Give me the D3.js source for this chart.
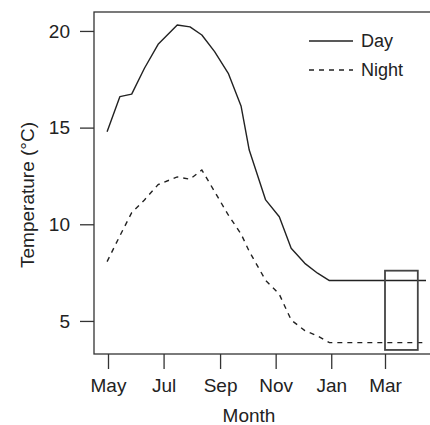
<!DOCTYPE html>
<html>
<head>
<meta charset="utf-8">
<script src="https://cdn.jsdelivr.net/npm/d3@7/dist/d3.min.js"></script>
<style>
  html, body { margin: 0; padding: 0; background: #fff; }
  svg { display: block; }
  text { font-family: "Liberation Sans", Arial, Helvetica, sans-serif; fill: #222; }
</style>
</head>
<body>
<svg id="chart" width="430" height="425"></svg>
<script>
// ---- data ----
const dates = [
  "2012-04-30","2012-05-14","2012-05-27","2012-06-10","2012-06-25","2012-07-16",
  "2012-07-30","2012-08-12","2012-08-26","2012-09-10","2012-09-24","2012-10-03",
  "2012-10-21","2012-11-05","2012-11-18","2012-12-03","2012-12-17","2012-12-30",
  "2013-01-15","2013-02-01","2013-02-15","2013-03-01","2013-03-15","2013-04-01","2013-04-15"
];
const dayTemp = [
  14.79, 16.60, 16.73, 18.07, 19.31, 20.31,
  20.21, 19.79, 18.93, 17.81, 16.12, 13.84,
  11.26, 10.39, 8.76, 7.98, 7.47, 7.09,
  7.09, 7.09, 7.09, 7.09, 7.09, 7.09, 7.09
];
const nightTemp = [
  8.07, 9.40, 10.60, 11.26, 12.05, 12.45,
  12.33, 12.81, 11.69, 10.48, 9.50, 8.60,
  7.10, 6.38, 5.05, 4.50, 4.22, 3.88,
  3.88, 3.88, 3.88, 3.88, 3.88, 3.88, 3.88
];
const seriesNames = ["Day", "Night"];
const xTickDates = ["2012-05-01","2012-07-01","2012-09-01","2012-11-01","2013-01-01","2013-03-01"];
const xTickLabels = ["May","Jul","Sep","Nov","Jan","Mar"];
const yTicks = [5, 10, 15, 20];
const highlightStart = "2013-03-01";
const highlightEnd = "2013-04-06";
const highlightLow = 3.5;
const highlightHigh = 7.6;
const xTitle = "Month";
const yTitle = "Temperature (°C)";

// ---- layout ----
const parse = d3.timeParse("%Y-%m-%d");
const svg = d3.select("#chart");
const pLeft = 94, pTop = 12, pRight = 445, pBottom = 354;

const x = d3.scaleTime()
  .domain([parse("2012-05-01"), parse("2013-03-01")])
  .range([108, 385]);
const y = d3.scaleLinear()
  .domain([3.29, 20.98])
  .range([pBottom, pTop]);

const fontSize = 19;
const ink = "#222";

// box
svg.append("rect")
  .attr("x", pLeft).attr("y", pTop)
  .attr("width", pRight - pLeft).attr("height", pBottom - pTop)
  .attr("fill", "none").attr("stroke", "#333").attr("stroke-width", 1.3);

// x axis
const xAxis = d3.axisBottom(x)
  .tickValues(xTickDates.map(parse))
  .tickFormat((d, i) => xTickLabels[i])
  .tickSize(15).tickPadding(10).tickSizeOuter(0);
const gx = svg.append("g").attr("transform", `translate(0,${pBottom})`).call(xAxis);
gx.select(".domain").remove();
gx.selectAll(".tick line").attr("stroke", "#333").attr("stroke-width", 1.3);
gx.selectAll(".tick text")
  .attr("font-size", fontSize).attr("fill", ink)
  .style("font-family", '"Liberation Sans", Arial, sans-serif');

// y axis
const yAxis = d3.axisLeft(y)
  .tickValues(yTicks)
  .tickFormat(d3.format("d"))
  .tickSize(14).tickPadding(10).tickSizeOuter(0);
const gy = svg.append("g").attr("transform", `translate(${pLeft},0)`).call(yAxis);
gy.select(".domain").remove();
gy.selectAll(".tick line").attr("stroke", "#333").attr("stroke-width", 1.3);
gy.selectAll(".tick text")
  .attr("font-size", fontSize).attr("fill", ink)
  .style("font-family", '"Liberation Sans", Arial, sans-serif');

// axis titles
svg.append("text")
  .attr("x", 249).attr("y", 422)
  .attr("text-anchor", "middle")
  .attr("font-size", fontSize)
  .text(xTitle);
svg.append("text")
  .attr("transform", `translate(34,195) rotate(-90)`)
  .attr("text-anchor", "middle")
  .attr("font-size", fontSize)
  .text(yTitle);

// lines
const rows = dates.map((d, i) => ({ date: parse(d), day: dayTemp[i], night: nightTemp[i] }));
const lineDay = d3.line().x(d => x(d.date)).y(d => y(d.day));
const lineNight = d3.line().x(d => x(d.date)).y(d => y(d.night));

svg.append("path").datum(rows)
  .attr("d", lineDay)
  .attr("fill", "none").attr("stroke", ink).attr("stroke-width", 1.4)
  .attr("stroke-linejoin", "round");
svg.append("path").datum(rows)
  .attr("d", lineNight)
  .attr("fill", "none").attr("stroke", ink).attr("stroke-width", 1.4)
  .attr("stroke-dasharray", "5,5");

// highlight rectangle
svg.append("rect")
  .attr("x", x(parse(highlightStart)))
  .attr("y", y(highlightHigh))
  .attr("width", x(parse(highlightEnd)) - x(parse(highlightStart)))
  .attr("height", y(highlightLow) - y(highlightHigh))
  .attr("fill", "none").attr("stroke", "#444").attr("stroke-width", 1.8);

// legend
const legend = svg.append("g");
const legendY = [41, 70];
const dashes = [null, "5,5"];
seriesNames.forEach((name, i) => {
  legend.append("line")
    .attr("x1", 309).attr("x2", 353)
    .attr("y1", legendY[i]).attr("y2", legendY[i])
    .attr("stroke", ink).attr("stroke-width", 1.4)
    .attr("stroke-dasharray", dashes[i]);
  legend.append("text")
    .attr("x", 361).attr("y", legendY[i])
    .attr("dy", "0.35em")
    .attr("font-size", 18)
    .text(name);
});
</script>
</body>
</html>
